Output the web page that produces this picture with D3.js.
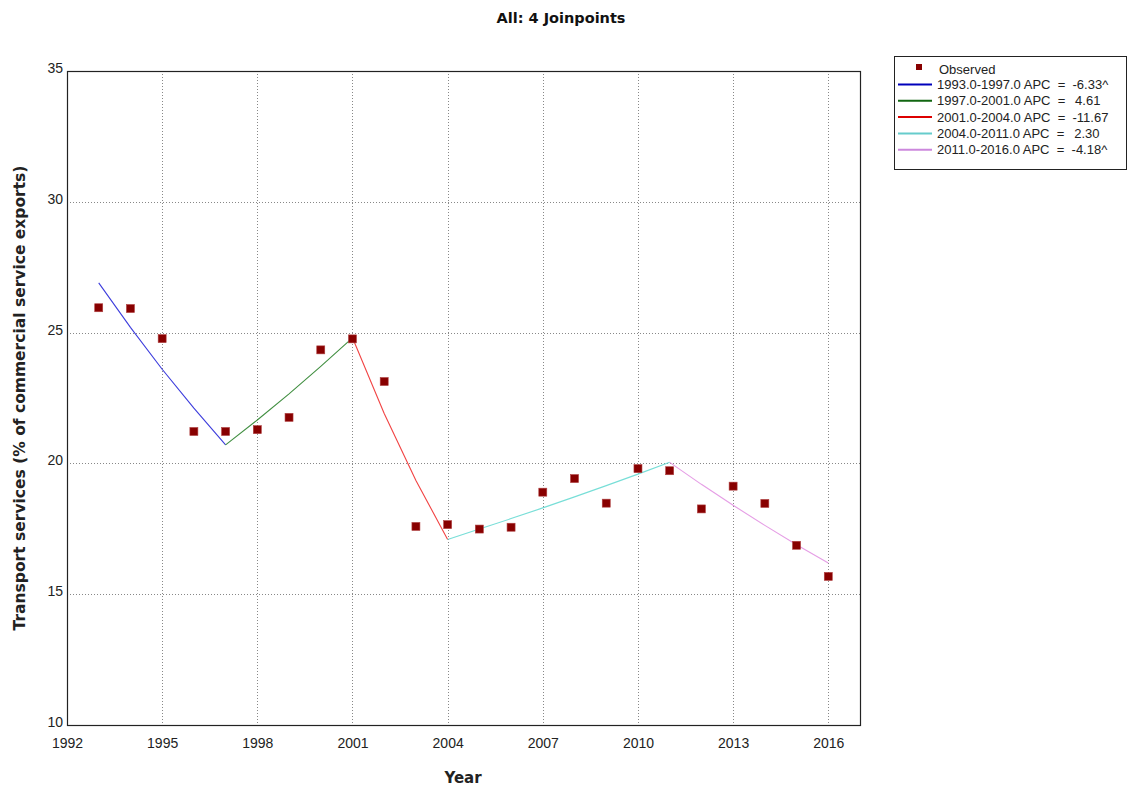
<!DOCTYPE html>
<html>
<head>
<meta charset="utf-8">
<script src="https://cdn.jsdelivr.net/npm/d3@7"></script>
<style>
  html, body { margin: 0; padding: 0; background: #fff; }
  svg { display: block; }
</style>
</head>
<body>
<svg id="chart" width="1128" height="789"></svg>
<script>
// Observed transport services share, by year
const years = [1993,1994,1995,1996,1997,1998,1999,2000,2001,2002,2003,2004,2005,2006,2007,2008,2009,2010,2011,2012,2013,2014,2015,2016];
const observed = [25.95,25.92,24.77,21.22,21.22,21.29,21.76,24.34,24.76,23.13,17.59,17.66,17.49,17.56,18.90,19.42,18.48,19.80,19.72,18.26,19.13,18.47,16.87,15.68];

// Joinpoint model: fitted value at each year
const fitted = [26.90,25.20,23.60,22.11,20.71,21.66,22.66,23.71,24.80,21.91,19.35,17.09,17.49,17.89,18.30,18.72,19.15,19.59,20.04,19.20,18.40,17.63,16.89,16.19];

// Segments of the model
const segStart = [1993,1997,2001,2004,2011];
const segEnd   = [1997,2001,2004,2011,2016];
const segAPC   = ["-6.33^","4.61","-11.67","2.30","-4.18^"];
const segColor = ["#1a1ad6","#1f7a1f","#ee2222","#5fd8d0","#e08ce0"];
const legendColor = ["#0000bb","#116611","#dd0000","#66cccc","#cc88dd"];

const xTicks = [1992,1995,1998,2001,2004,2007,2010,2013,2016];
const yTicks = [10,15,20,25,30,35];

const svg = d3.select("#chart");
const M = { left: 67, right: 860, top: 71, bottom: 725 };

const x = d3.scaleLinear().domain([1992, 2017]).range([M.left, M.right]);
const y = d3.scaleLinear().domain([10, 35]).range([M.bottom, M.top]);

// grid
const grid = svg.append("g");
grid.selectAll("line.gx").data(xTicks.filter(t => t > 1992)).join("line")
  .attr("x1", d => Math.round(x(d)) + 0.5).attr("x2", d => Math.round(x(d)) + 0.5)
  .attr("y1", M.top).attr("y2", M.bottom)
  .attr("stroke", "#888").attr("stroke-width", 1).attr("stroke-dasharray", "1,2");
grid.selectAll("line.gy").data(yTicks.filter(t => t > 10 && t < 35)).join("line")
  .attr("y1", d => Math.round(y(d)) + 0.5).attr("y2", d => Math.round(y(d)) + 0.5)
  .attr("x1", M.left).attr("x2", M.right)
  .attr("stroke", "#888").attr("stroke-width", 1).attr("stroke-dasharray", "1,2");

// axes (labels only; frame drawn separately)
const xAxis = svg.append("g").attr("transform", `translate(0,${M.bottom})`)
  .call(d3.axisBottom(x).tickValues(xTicks).tickFormat(d3.format("d")).tickSize(0).tickPadding(13));
const yAxis = svg.append("g").attr("transform", `translate(${M.left},0)`)
  .call(d3.axisLeft(y).tickValues(yTicks).tickSize(0).tickPadding(4));
[xAxis, yAxis].forEach(a => {
  a.select(".domain").remove();
  a.selectAll("text").attr("font-family", "'Liberation Sans', Arial, sans-serif")
    .attr("font-size", 14).attr("fill", "#222");
});
yAxis.selectAll("text").attr("dy", "0.1em");

// frame
svg.append("rect").attr("x", M.left + 0.5).attr("y", M.top + 0.5)
  .attr("width", M.right - M.left).attr("height", M.bottom - M.top)
  .attr("fill", "none").attr("stroke", "#222").attr("stroke-width", 1.2);

// fitted segments
const line = d3.line().x(d => x(d[0])).y(d => y(d[1]));
segStart.forEach((s, i) => {
  const pts = years.map((yr, k) => [yr, fitted[k]]).filter(p => p[0] >= s && p[0] <= segEnd[i]);
  svg.append("path").datum(pts).attr("d", line)
    .attr("fill", "none").attr("stroke", segColor[i]).attr("stroke-width", 1.1)
    .attr("opacity", 0.85);
});

// observed points
svg.append("g").selectAll("rect").data(years).join("rect")
  .attr("x", (d) => x(d) - 4).attr("y", (d, i) => y(observed[i]) - 4)
  .attr("width", 8).attr("height", 8)
  .attr("fill", "#880000").attr("stroke", "#b04040").attr("stroke-width", 0.6);

// titles
const boldFont = "'DejaVu Sans', Verdana, sans-serif";
svg.append("text").attr("x", 561).attr("y", 23).attr("text-anchor", "middle")
  .attr("font-family", boldFont).attr("font-weight", "bold")
  .attr("font-size", 14.5).attr("fill", "#111").text("All: 4 Joinpoints");
svg.append("text").attr("x", 463).attr("y", 783).attr("text-anchor", "middle")
  .attr("font-family", boldFont).attr("font-weight", "bold")
  .attr("font-size", 15).attr("fill", "#222").text("Year");
svg.append("text").attr("transform", "translate(25,398) rotate(-90)").attr("text-anchor", "middle")
  .attr("font-family", boldFont).attr("font-weight", "bold")
  .attr("font-size", 15.5).attr("fill", "#222")
  .text("Transport services (% of commercial service exports)");

// legend
const lg = svg.append("g");
lg.append("rect").attr("x", 894.5).attr("y", 56.5).attr("width", 232).attr("height", 113)
  .attr("fill", "#fff").attr("stroke", "#222").attr("stroke-width", 1);
const lgFont = "'Liberation Sans', Arial, sans-serif";
lg.append("rect").attr("x", 916).attr("y", 64).attr("width", 6).attr("height", 6).attr("fill", "#880000");
lg.append("text").attr("x", 939).attr("y", 74).attr("font-family", lgFont).attr("font-size", 13)
  .attr("fill", "#222").text("Observed");
segStart.forEach((s, i) => {
  const ry = 84.5 + i * 16.3;
  lg.append("line").attr("x1", 898).attr("x2", 932).attr("y1", ry).attr("y2", ry)
    .attr("stroke", legendColor[i]).attr("stroke-width", 2);
  const apc = segAPC[i].startsWith("-") ? segAPC[i] : "\u2009" + segAPC[i];
  lg.append("text").attr("x", 937).attr("y", ry + 4.5).attr("font-family", lgFont)
    .attr("font-size", 13).attr("fill", "#222").attr("xml:space", "preserve")
    .text(`${s.toFixed(1)}-${segEnd[i].toFixed(1)} APC  =  ${apc}`);
});
</script>
</body>
</html>
